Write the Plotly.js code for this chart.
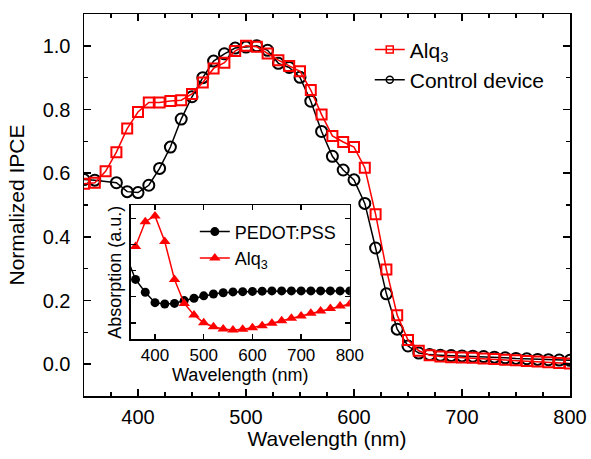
<!DOCTYPE html>
<html>
<head>
<meta charset="utf-8">
<script src="https://cdn.plot.ly/plotly-3.0.1.min.js"></script>
<style>html,body{margin:0;padding:0;background:#fff;}#chart{width:591px;height:459px;}</style>
</head>
<body>
<div id="chart"></div>
<script>
// Main plot: normalized IPCE
const alqX = [350,360,370,380,390,400,410,420,430,440,450,460,470,480,490,500,510,520,530,540,550,560,570,580,590,600,610,620,630,640,650,660,670,680,690,700,710,720,730,740,750,760,770,780,790,800];
const alqY = [0.567,0.570,0.606,0.666,0.740,0.792,0.822,0.822,0.827,0.829,0.849,0.885,0.929,0.947,0.984,1.000,0.997,0.976,0.955,0.937,0.920,0.861,0.784,0.717,0.698,0.682,0.617,0.471,0.297,0.154,0.076,0.042,0.028,0.024,0.022,0.021,0.020,0.018,0.016,0.014,0.012,0.010,0.008,0.006,0.004,0.002];
const ctrlX = [350,360,380,390,400,410,420,430,440,450,460,470,480,490,500,510,520,530,540,550,560,570,580,590,600,610,620,630,640,650,660,670,680,690,700,710,720,730,740,750,760,770,780,790,800];
const ctrlY = [0.580,0.578,0.570,0.542,0.539,0.562,0.615,0.682,0.770,0.840,0.900,0.952,0.975,0.993,0.996,1.000,0.986,0.945,0.932,0.901,0.826,0.731,0.653,0.610,0.579,0.505,0.365,0.221,0.110,0.057,0.035,0.030,0.028,0.027,0.026,0.025,0.024,0.022,0.020,0.018,0.017,0.015,0.014,0.013,0.012];
// Inset: absorption
const absX = [360,380,400,420,440,460,480,500,520,540,560,580,600,620,640,660,680,700,720,740,760,780,800];
const pedotX = [340].concat(absX);
const pedotY = [0.360,0.266,0.217,0.177,0.172,0.174,0.185,0.194,0.203,0.210,0.215,0.218,0.219,0.220,0.221,0.222,0.222,0.222,0.222,0.222,0.222,0.222,0.222,0.222];
const alqAbsY = [0.392,0.487,0.509,0.411,0.266,0.174,0.130,0.100,0.085,0.076,0.072,0.075,0.081,0.089,0.098,0.108,0.117,0.126,0.136,0.145,0.155,0.164,0.172];
const names = {alq: 'Alq<sub>3</sub>', ctrl: 'Control device', pedot: 'PEDOT:PSS'};

const FONT = 'Liberation Sans, Arial, sans-serif';
const RED = '#ff0000';
const traces = [
  {x: ctrlX, y: ctrlY, type: 'scatter', mode: 'lines+markers', showlegend: false,
   line: {color: '#000', width: 1.5},
   marker: {symbol: 'circle-open', size: 11, color: '#000', line: {width: 2, color: '#000'}}},
  {x: alqX, y: alqY, type: 'scatter', mode: 'lines+markers', showlegend: false,
   line: {color: RED, width: 1.5},
   marker: {symbol: 'square-open', size: 10, color: RED, line: {width: 2, color: RED}}},
  // legend entries (main)
  {x: [null], y: [null], type: 'scatter', mode: 'lines+markers', name: names.alq, legend: 'legend',
   line: {color: RED, width: 1.5}, marker: {symbol: 'square-open', size: 7, color: RED, line: {width: 1.5, color: RED}}},
  {x: [null], y: [null], type: 'scatter', mode: 'lines+markers', name: names.ctrl, legend: 'legend',
   line: {color: '#000', width: 1.5}, marker: {symbol: 'circle-open', size: 7, color: '#000', line: {width: 1.5, color: '#000'}}},
  // inset
  {x: pedotX, y: pedotY, xaxis: 'x2', yaxis: 'y2', type: 'scatter', mode: 'lines+markers', name: names.pedot, legend: 'legend2',
   line: {color: '#000', width: 1.5}, marker: {symbol: 'circle', size: 9, color: '#000'}, cliponaxis: true},
  {x: absX, y: alqAbsY, xaxis: 'x2', yaxis: 'y2', type: 'scatter', mode: 'lines+markers', name: names.alq, legend: 'legend2',
   line: {color: RED, width: 1.5}, marker: {symbol: 'triangle-up', size: 10, color: RED}, cliponaxis: true}
];

const axBase = {showline: true, linecolor: '#000', linewidth: 1.5, mirror: 'ticks', ticks: 'inside',
  tickcolor: '#000', tickwidth: 1.5, showgrid: false, zeroline: false, tickfont: {family: FONT, size: 20, color: '#000'}};

const layout = {
  width: 591, height: 459,
  margin: {l: 84, r: 21, t: 14, b: 63},
  paper_bgcolor: '#fff', plot_bgcolor: '#fff',
  font: {family: FONT, color: '#000'},
  xaxis: Object.assign({}, axBase, {range: [350, 800], dtick: 100, tick0: 400, ticklen: 7, ticklabelstandoff: 2,
    minor: {dtick: 25, ticklen: 4, tickcolor: '#000', tickwidth: 1.5, ticks: 'inside'},
    title: {text: 'Wavelength (nm)', font: {family: FONT, size: 21, color: '#000'}, standoff: 5}}),
  yaxis: Object.assign({}, axBase, {range: [-0.1, 1.1], dtick: 0.2, tick0: 0, ticklen: 7, tickformat: '.1f', ticklabelstandoff: 8,
    minor: {dtick: 0.1, ticklen: 4, tickcolor: '#000', tickwidth: 1.5, ticks: 'inside'},
    title: {text: 'Normalized IPCE', font: {family: FONT, size: 21, color: '#000'}, standoff: 12}}),
  xaxis2: Object.assign({}, axBase, {domain: [0.096, 0.547], anchor: 'y2', range: [350, 800], dtick: 100, tick0: 400, ticklen: 5,
    tickfont: {family: FONT, size: 17, color: '#000'},
    title: {text: 'Wavelength (nm)', font: {family: FONT, size: 18, color: '#000'}, standoff: 1}}),
  yaxis2: Object.assign({}, axBase, {domain: [0.148, 0.5], anchor: 'x2', range: [0.036, 0.551], dtick: 0.1, tick0: 0, ticklen: 5,
    showticklabels: false,
    title: {text: 'Absorption (a.u.)', font: {family: FONT, size: 18, color: '#000'}, standoff: 3}}),
  legend: {x: 0.588, y: 0.96, xanchor: 'left', yanchor: 'top', bgcolor: 'rgba(0,0,0,0)',
    font: {family: FONT, size: 21, color: '#000'}, tracegroupgap: 0},
  legend2: {x: 0.228, y: 0.478, xanchor: 'left', yanchor: 'top', bgcolor: 'rgba(0,0,0,0)',
    font: {family: FONT, size: 18, color: '#000'}},
  shapes: [{type: 'rect', xref: 'x2 domain', yref: 'y2 domain', x0: 0, x1: 1, y0: 0, y1: 1,
    fillcolor: '#fff', line: {width: 0}, layer: 'below'}]
};

Plotly.newPlot('chart', traces, layout, {staticPlot: true, displayModeBar: false});
</script>
</body>
</html>
